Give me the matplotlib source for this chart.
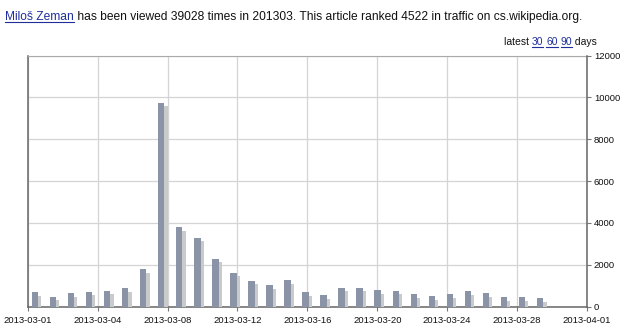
import matplotlib
import matplotlib.pyplot as plt
import matplotlib.patheffects as pe
import numpy as np
from matplotlib.lines import Line2D

matplotlib.use("Agg")

# daily page views, 2013-03-01 .. 2013-03-29
VIEWS = [700, 480, 650, 720, 760, 870, 1790, 9750, 3800, 3300,
         2300, 1620, 1240, 1040, 1280, 690, 545, 910, 900, 785,
         765, 595, 510, 610, 735, 640, 450, 440, 400]
DAYS_IN_RANGE = 31
X_LABELS = ["2013-03-01", "2013-03-04", "2013-03-08", "2013-03-12", "2013-03-16",
            "2013-03-20", "2013-03-24", "2013-03-28", "2013-04-01"]
Y_TICKS = [0, 2000, 4000, 6000, 8000, 10000, 12000]

TITLE_PARTS = [("Miloš Zeman", True), (" has been viewed 39028 times in 201303. This article ranked 4522 in traffic on cs.wikipedia.org.", False)]
LATEST_PARTS = [("latest ", False), ("30", True), (" ", False), ("60", True), (" ", False), ("90", True), (" days", False)]

BAR_COLOR = "#8a94a6"
SHADOW_COLOR = "#c9cacc"
LINK_COLOR = "#1f2f9c"
FONT = "Liberation Sans"


def draw_segments(fig, renderer, parts, x, y, size, align="left"):
    # measure first so that right-aligned runs can be placed
    texts = []
    for s, link in parts:
        t = fig.text(0, 0, s, fontsize=size, family=FONT, va="baseline",
                     color=LINK_COLOR if link else "#111111")
        texts.append((t, link))
    widths = [t.get_window_extent(renderer).width for t, _ in texts]
    total = sum(widths)
    W = fig.get_figwidth() * fig.dpi
    H = fig.get_figheight() * fig.dpi
    px = x if align == "left" else x - total
    for (t, link), w in zip(texts, widths):
        t.set_position((px / W, 1 - y / H))
        if link:
            fig.add_artist(Line2D([px / W, (px + w) / W], [1 - (y + 1.5) / H] * 2,
                                  color=LINK_COLOR, lw=0.8, transform=fig.transFigure))
        px += w


def main() -> None:
    fig = plt.figure(figsize=(6.3, 3.35), dpi=100)
    ax = fig.add_axes([27.7 / 630, 1 - 306.7 / 335, (587 - 27.7) / 630, (306.7 - 55.5) / 335])

    x = np.arange(len(VIEWS)) + 0.4
    bars = ax.bar(x, VIEWS, width=0.36, color=BAR_COLOR, zorder=3)
    for b in bars:
        b.set_path_effects([pe.SimplePatchShadow(offset=(2.3, -2.6), shadow_rgbFace=SHADOW_COLOR, alpha=1.0),
                            pe.Normal()])

    ax.set_xlim(0, DAYS_IN_RANGE)
    ax.set_ylim(0, 12000)
    ax.set_xticks(np.linspace(0, DAYS_IN_RANGE, len(X_LABELS)))
    ax.set_xticklabels(X_LABELS)
    ax.set_yticks(Y_TICKS)
    ax.yaxis.tick_right()
    ax.tick_params(axis="both", labelsize=6.8, length=3, width=0.8, color="#777777", pad=2)
    ax.tick_params(axis="x", pad=4)
    for lab in ax.get_xticklabels() + ax.get_yticklabels():
        lab.set_family(FONT)
        lab.set_color("#111111")
    ax.grid(True, color="#d4d4d4", lw=0.9, zorder=0)
    ax.set_axisbelow(True)

    for side in ["left", "bottom", "right"]:
        ax.spines[side].set_color("#666666")
        ax.spines[side].set_linewidth(1.1)
    ax.spines["right"].set_zorder(5)
    ax.spines["top"].set_color("#aaaaaa")
    ax.spines["top"].set_linewidth(0.8)

    renderer = fig.canvas.get_renderer()
    draw_segments(fig, renderer, TITLE_PARTS, 5, 20, 8.65)
    draw_segments(fig, renderer, LATEST_PARTS, 597, 45, 7.5, align="right")

    fig.savefig("out.png", dpi=100)
    plt.close(fig)


if __name__ == "__main__":
    main()
